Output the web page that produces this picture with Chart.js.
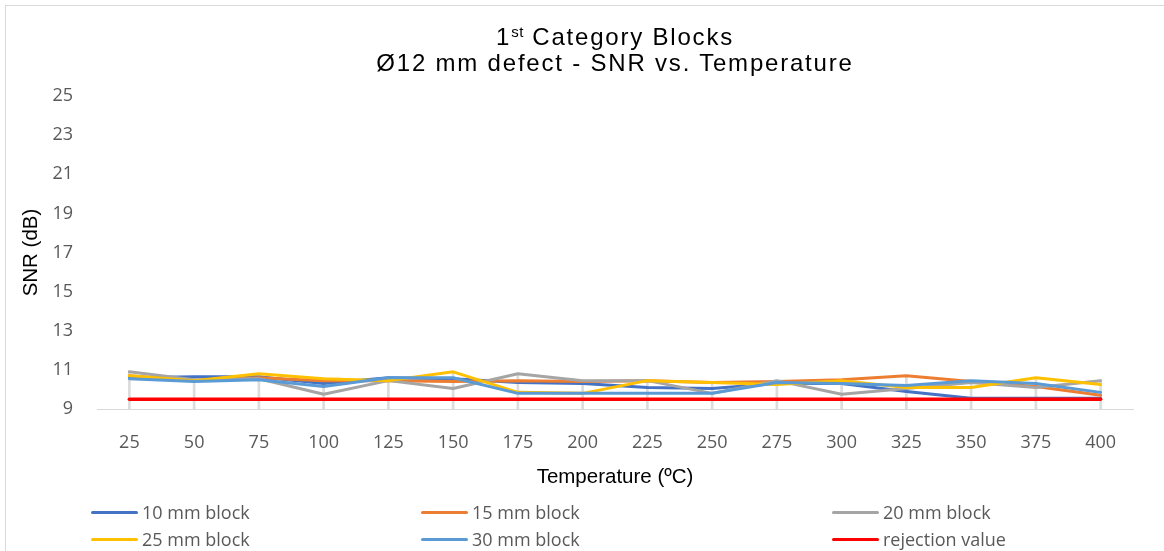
<!DOCTYPE html>
<html>
<head>
<meta charset="utf-8">
<script src="https://cdn.jsdelivr.net/npm/chart.js@4.4.1/dist/chart.umd.min.js"></script>
<style>
  html, body { margin: 0; padding: 0; background: #fff; }
  #wrap { position: relative; width: 1164px; height: 551px; overflow: hidden; background: #fff; }
  #frame { position: absolute; left: 5px; top: 5px; width: 1200px; height: 600px;
           border: 1px solid #d9d9d9; box-sizing: border-box; }
  canvas { position: absolute; left: 0; top: 0; }
  #title { position: absolute; left: 50px; top: 24px; width: 1130px; text-align: center;
           font-family: "Liberation Sans", Arial, sans-serif; font-size: 24px; line-height: 26px;
           letter-spacing: 1.8px; color: #000; }
  #title sup { font-size: 15px; line-height: 0; vertical-align: 8px; letter-spacing: 0.5px; }
  .leg { position: absolute; display: flex; align-items: center; height: 26px;
         font-family: "Open Sans", sans-serif; font-size: 18px; color: #595959; white-space: nowrap; }
  .leg i { display: inline-block; width: 47px; height: 3px; border-radius: 2px; margin-right: 4px; }
</style>
</head>
<body>
<div id="wrap">
  <div id="frame"></div>
  <canvas id="chart" width="1164" height="551"></canvas>
  <div id="title">1<sup>st</sup> Category Blocks<br>Ø12 mm defect - SNR vs. Temperature</div>
  <div id="legend"></div>
</div>
<script>
// Temperatures (ºC) along the category axis
const temperatures = ['25', '50', '75', '100', '125', '150', '175', '200',
                      '225', '250', '275', '300', '325', '350', '375', '400'];

// SNR (dB) per block thickness
const block10 = [10.60, 10.65, 10.65, 10.30, 10.60, 10.55, 10.35, 10.30,
                 10.10, 10.05, 10.30, 10.30, 9.90, 9.55, 9.55, 9.55];
const block15 = [10.70, 10.45, 10.60, 10.45, 10.45, 10.40, 10.45, 10.40,
                 10.45, 10.35, 10.40, 10.50, 10.70, 10.40, 10.15, 9.70];
const block20 = [10.90, 10.50, 10.55, 9.75, 10.45, 10.05, 10.80, 10.45,
                 10.45, 9.80, 10.45, 9.75, 10.05, 10.35, 10.10, 10.45];
const block25 = [10.70, 10.45, 10.80, 10.55, 10.45, 10.90, 9.85, 9.80,
                 10.45, 10.35, 10.25, 10.45, 10.10, 10.10, 10.60, 10.25];
const block30 = [10.55, 10.40, 10.50, 10.15, 10.60, 10.60, 9.80, 9.80,
                 9.80, 9.80, 10.35, 10.30, 10.20, 10.45, 10.30, 9.85];
const rejection = [9.5, 9.5, 9.5, 9.5, 9.5, 9.5, 9.5, 9.5,
                   9.5, 9.5, 9.5, 9.5, 9.5, 9.5, 9.5, 9.5];

// Value axis range and step
const yMin = 9;
const yMax = 25;
const yStep = 2;

const seriesLabels = ['10 mm block', '15 mm block', '20 mm block',
                      '25 mm block', '30 mm block', 'rejection value'];
const seriesData = [block10, block15, block20, block25, block30, rejection];
const seriesColors = ['#4472C4', '#ED7D31', '#A5A5A5', '#FFC000', '#5B9BD5', '#FF0000'];

// Drop lines: from the axis up to the highest point of each category
const dropLines = temperatures.map((_, i) => [yMin, Math.max(...seriesData.map(s => s[i]))]);

const lineSets = seriesData.map((data, k) => ({
  type: 'line',
  label: seriesLabels[k],
  data: data,
  borderColor: seriesColors[k],
  backgroundColor: seriesColors[k],
  borderWidth: k === 5 ? 3.5 : 3,
  pointRadius: 0,
  tension: 0,
  borderJoinStyle: 'round',
  borderCapStyle: 'round',
  fill: false,
  order: 5 - k          // later series are painted over earlier ones
}));

const dropSet = {
  type: 'bar',
  label: 'drop lines',
  data: dropLines,
  backgroundColor: '#dcdcdc',
  barThickness: 2,
  grouped: false,
  order: 20
};

const axisTitleFont = { family: '"Liberation Sans", Arial, sans-serif', size: 20.5 };
const tickFont = { family: '"Open Sans", sans-serif', size: 18 };

new Chart(document.getElementById('chart'), {
  type: 'line',
  data: { labels: temperatures, datasets: [dropSet, ...lineSets] },
  options: {
    responsive: false,
    devicePixelRatio: 1,
    animation: false,
    events: [],
    layout: { padding: { left: 0, right: 31, top: 96, bottom: 56 } },
    plugins: { legend: { display: false }, tooltip: { enabled: false }, title: { display: false } },
    scales: {
      x: {
        offset: true,
        grid: { display: false, drawTicks: false },
        border: { display: true, color: '#d9d9d9', width: 1 },
        ticks: { color: '#595959', font: tickFont, padding: 23, maxRotation: 0, autoSkip: false },
        title: { display: true, text: 'Temperature (ºC)', color: '#000', font: axisTitleFont,
                 padding: { top: 0, bottom: 5 } },
        afterFit(s) { s.height = 86; }
      },
      y: {
        min: yMin, max: yMax,
        grid: { display: false, drawTicks: false },
        border: { display: false },
        ticks: { stepSize: yStep, color: '#595959', font: tickFont, padding: 24 },
        title: { display: true, text: 'SNR (dB)', color: '#000', font: axisTitleFont,
                 padding: { top: 19, bottom: 0 } },
        afterFit(s) { s.width = 97; }
      }
    }
  }
});

// Legend laid out in three columns, two rows
const legendSpots = [[91, 499], [421, 499], [832, 499], [91, 526], [421, 526], [832, 526]];
const legendBox = document.getElementById('legend');
seriesLabels.forEach((text, k) => {
  const item = document.createElement('div');
  item.className = 'leg';
  item.style.left = legendSpots[k][0] + 'px';
  item.style.top = legendSpots[k][1] + 'px';
  const sw = document.createElement('i');
  sw.style.background = seriesColors[k];
  item.appendChild(sw);
  item.appendChild(document.createTextNode(text));
  legendBox.appendChild(item);
});
</script>
</body>
</html>
